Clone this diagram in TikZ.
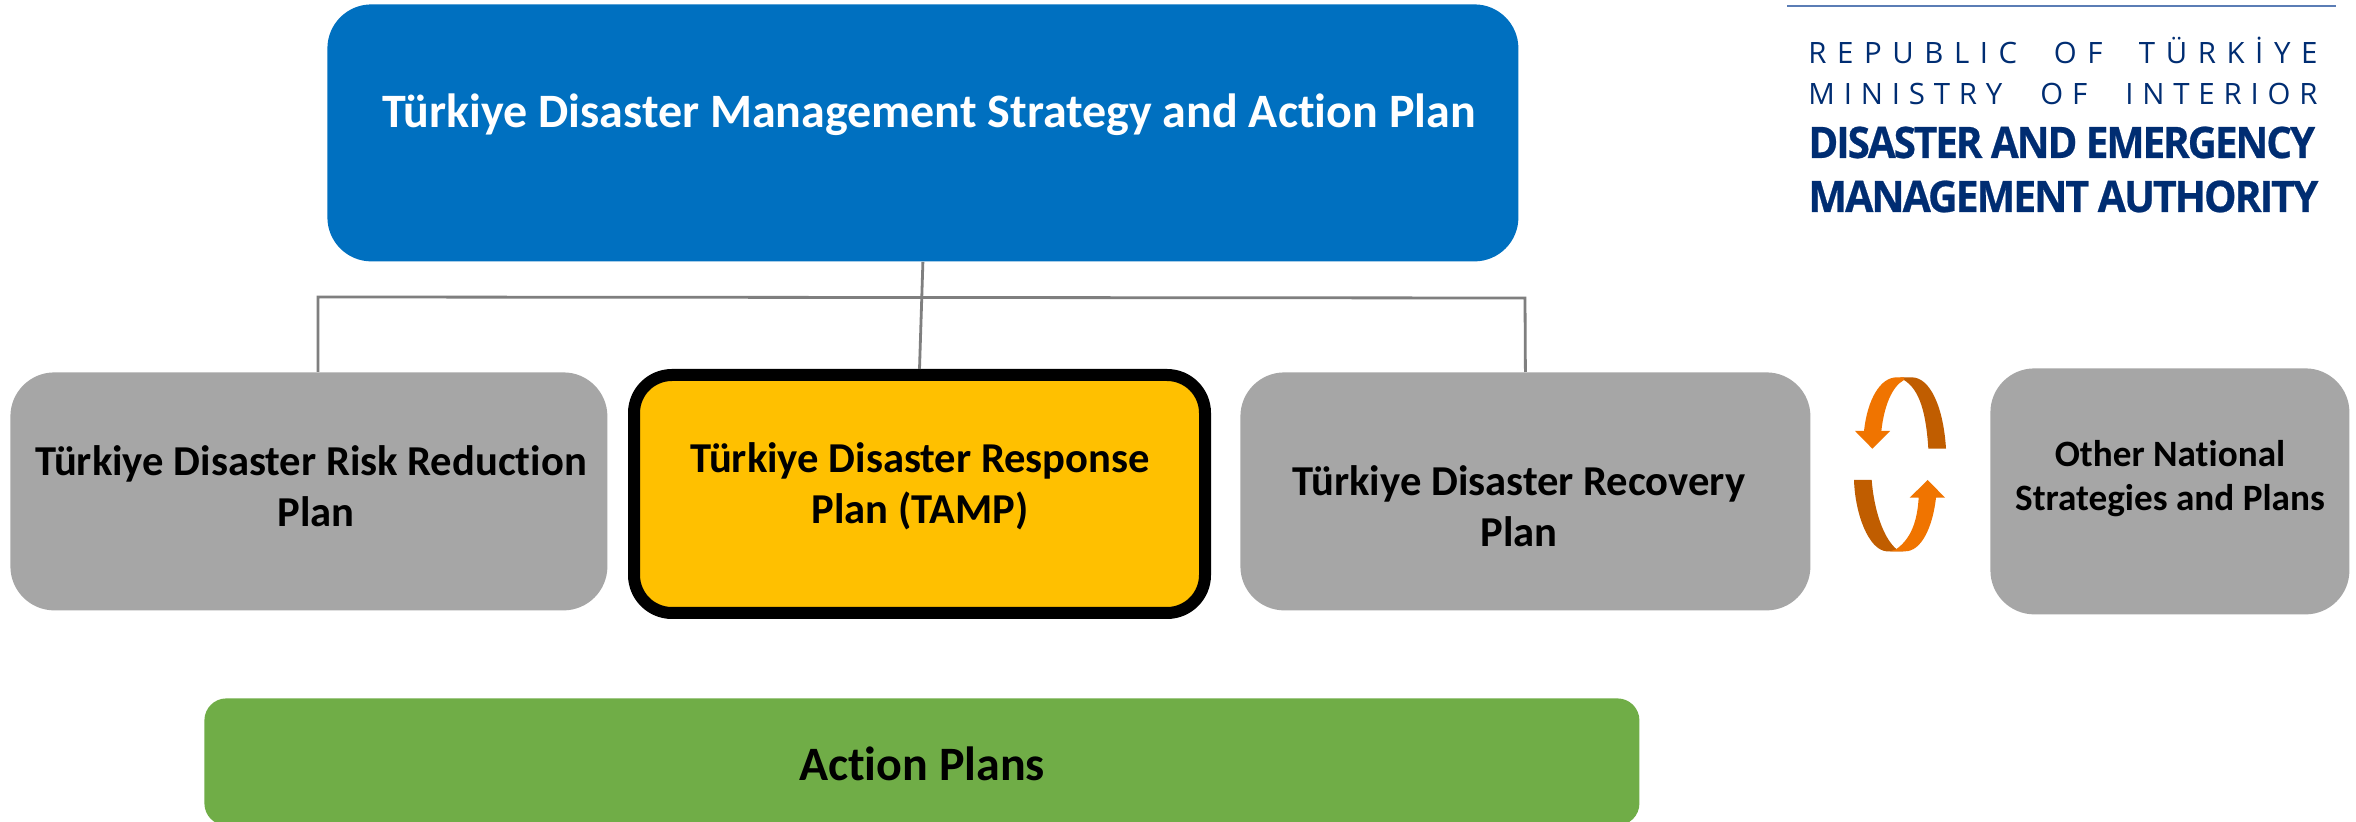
\documentclass[tikz,border=0pt]{standalone}
\usepackage{graphicx}
\usepackage{fontspec}
\setmainfont[Ligatures=NoCommon]{Carlito}
\newfontfamily\logofont{Open Sans}
\definecolor{cblue}{HTML}{0070C0}
\definecolor{cyellow}{HTML}{FFC000}
\definecolor{cgrey}{HTML}{A6A6A6}
\definecolor{cgreen}{HTML}{70AD47}
\definecolor{cline}{HTML}{7F7F7F}
\definecolor{cnavy}{HTML}{002D72}
\definecolor{cdark}{HTML}{C05D00}
\definecolor{clight}{HTML}{F07400}
\definecolor{crule}{HTML}{5B7DB5}
\tikzset{
  pbox/.style={rectangle,rounded corners=22pt,inner sep=0pt,anchor=north west},
  ptext/.style={align=center,font=\bfseries\fontsize{21.3pt}{25.5pt}\selectfont,inner sep=0pt},
  conn/.style={draw=cline,line width=1.4pt},
  logo/.style={anchor=base west,inner sep=0pt,text=cnavy},
}
\begin{document}
\begin{tikzpicture}[x=0.5pt,y=-0.5pt]
\path[use as bounding box,clip] (0,0) rectangle (2356,822);
\fill[white] (0,0) rectangle (2356,822);
% boxes
\node[pbox,fill=cblue,minimum width=595.5pt,minimum height=128.5pt] (top) at (327,4) {};
\node[pbox,fill=cgrey,minimum width=298.5pt,minimum height=119pt] (left) at (10,372) {};
\node[pbox,fill=cyellow,draw=black,line width=6pt,rounded corners=19pt,minimum width=285.5pt,minimum height=119pt] (mid) at (628,369) {};
\node[pbox,fill=cgrey,minimum width=285pt,minimum height=119pt] (right) at (1240,372) {};
\node[pbox,fill=cgrey,minimum width=179.5pt,minimum height=123pt] (other) at (1990,368) {};
\node[pbox,fill=cgreen,rounded corners=11pt,minimum width=717.5pt,minimum height=63.5pt] (green) at (204,698) {};
% connectors
\coordinate (barL) at (318,297);
\coordinate (barR) at (1525,298);
\coordinate (dropL) at (318,372);
\draw[conn] (top.south) -- (mid.north);
\draw[conn] (dropL) -- (barL) -- (barR) -- (right.north);
% labels
\node[ptext,text=white,font=\bfseries\fontsize{24pt}{28pt}\selectfont] (ttop) at (929,115) {Türkiye Disaster Management Strategy and Action Plan};
\node[ptext] (tleft) at (311,486) {Türkiye Disaster Risk Reduction\\\hspace*{5pt}Plan};
\node[ptext] (tmid) at (920,486) {Türkiye Disaster Response\\Plan (TAMP)};
\node[ptext] (tright) at (1519,506) {Türkiye Disaster Recovery\\Plan};
\node[ptext,font=\bfseries\fontsize{18.6pt}{22pt}\selectfont] (tother) at (2170,479) {Other National\\Strategies and Plans};
\node[ptext,font=\bfseries\fontsize{24pt}{28pt}\selectfont] (tgreen) at (922,764) {Action Plans};
% logo
\draw[crule,line width=1pt] (1787,6) -- (2336,6);
\node[logo,font=\logofont\fontsize{14.7pt}{16pt}\selectfont] (l1) at (1808,64) {\makebox[254.5pt][s]{\addfontfeature{LetterSpace=36}REPUBLIC\hfil OF\hfil TÜRKİYE}};
\node[logo,font=\logofont\fontsize{14.7pt}{16pt}\selectfont] (l2) at (1808,105) {\makebox[254.5pt][s]{\addfontfeature{LetterSpace=30}MINISTRY\hfil OF\hfil INTERIOR}};
\node[logo,font=\logofont\bfseries\fontsize{21.7pt}{24pt}\selectfont] (l3) at (1808,158) {\scalebox{0.93}[1]{\addfontfeature{LetterSpace=-5,FakeBold=0.6}DISASTER AND EMERGENCY}};
\node[logo,font=\logofont\bfseries\fontsize{21.7pt}{24pt}\selectfont] (l4) at (1808,212) {\scalebox{0.945}[1]{\addfontfeature{LetterSpace=-5,FakeBold=0.6}MANAGEMENT AUTHORITY}};
% cycle arrows
\begin{scope}[shift={(1780,350)},x=0.1666667pt,y=-0.1666667pt]
\fill[cdark] (372,90) .. controls (420,120) and (438,190) .. (445,296) -- (498,296) .. controls (490,170) and (450,82) .. (395,82) -- (360,82) -- cycle;
\fill[clight] (372,90) .. controls (335,110) and (312,170) .. (304,243) -- (330,243) -- (277,296) -- (225,243) -- (252,243) .. controls (262,150) and (300,82) .. (350,82) -- (372,82) -- cycle;
\fill[cdark] (222,390) -- (275,390) .. controls (282,480) and (310,565) .. (350,598) -- (370,604) -- (320,604) .. controls (265,600) and (225,490) .. (222,390) -- cycle;
\fill[clight] (348,598) .. controls (395,565) and (412,510) .. (416,443) -- (389,443) -- (443,390) -- (495,443) -- (468,443) .. controls (458,530) and (425,604) .. (375,604) -- (330,604) -- cycle;
\end{scope}
\end{tikzpicture}
\end{document}
